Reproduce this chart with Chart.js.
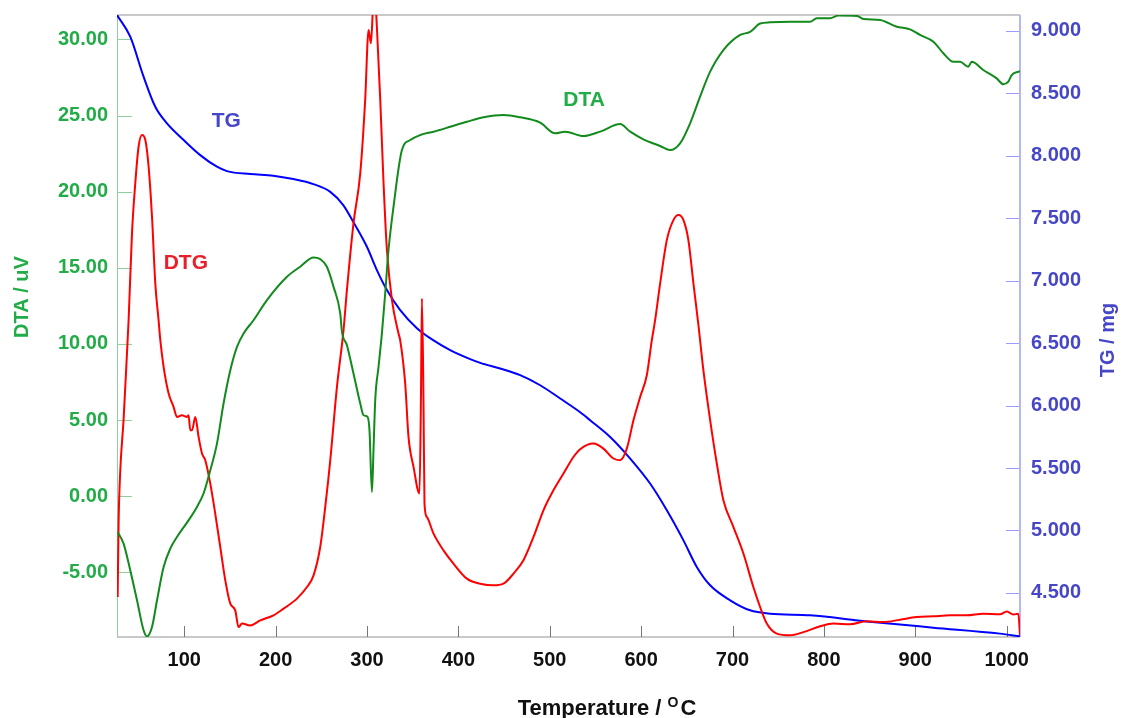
<!DOCTYPE html>
<html>
<head>
<meta charset="utf-8">
<script src="https://cdn.jsdelivr.net/npm/chart.js@4.4.1/dist/chart.umd.min.js"></script>
<style>
  body { margin: 0; background: #fff; }
  canvas { display: block; }
</style>
</head>
<body>
<canvas id="myChart" width="1124" height="718"></canvas>
<script>
// axis ranges and tick labels
const xMin = 26.4, xMax = 1014.6
const dtaMin = -9.24, dtaMax = 31.6
const tgMin = 4.147, tgMax = 9.128
const xTicks = [100, 200, 300, 400, 500, 600, 700, 800, 900, 1000]
const dtaTicks = [-5, 0, 5, 10, 15, 20, 25, 30]
const tgTicks = [4.5, 5, 5.5, 6, 6.5, 7, 7.5, 8, 8.5, 9]

// TG curve (mg) vs temperature
const tgT = [26.4, 40.9, 55.5, 68.3, 81.1, 99.3, 117.5, 135.8, 146.7, 172.2,
  197.4, 219.3, 241.2, 259.8, 274.0, 284.9, 299.9, 310.8, 321.8, 336.3,
  354.6, 372.4, 391.0, 412.9, 423.9, 445.7, 467.6, 489.5, 511.4, 533.3,
  544.2, 566.1, 588.0, 609.8, 628.1, 646.3, 660.9, 675.5, 697.4, 719.2,
  741.1, 784.9, 846.9, 919.8, 992.7, 1014.6]
const tgV = [9.128, 8.954, 8.634, 8.393, 8.260, 8.127, 8.006, 7.913, 7.878, 7.854,
  7.841, 7.814, 7.774, 7.712, 7.606, 7.472, 7.272, 7.085, 6.925, 6.764,
  6.620, 6.524, 6.444, 6.372, 6.342, 6.297, 6.244, 6.163, 6.057, 5.947,
  5.883, 5.749, 5.576, 5.376, 5.162, 4.921, 4.708, 4.561, 4.441, 4.361,
  4.334, 4.321, 4.272, 4.222, 4.174, 4.152]

// DTA curve (uV)
const dtaT = [27.1, 33.6, 40.9, 48.3, 55.5, 59.2, 64.7, 70.2, 77.4, 84.7,
  92.0, 104.7, 113.9, 121.1, 128.5, 135.8, 143.0, 150.4, 157.7, 164.9,
  175.8, 190.5, 212.4, 226.9, 241.5, 248.8, 256.1, 263.4, 270.7, 272.6,
  278.0, 285.2, 292.6, 296.2, 300.6, 302.7, 305.4, 307.1, 309.0, 312.6,
  316.3, 319.9, 323.5, 329.0, 338.2, 347.3, 358.2, 372.8, 391.0, 409.3,
  427.5, 449.3, 467.6, 489.5, 505.9, 516.8, 536.9, 555.1, 577.0, 588.0,
  602.5, 620.8, 631.7, 642.6, 653.6, 664.5, 675.5, 690.0, 708.3, 719.2,
  730.2, 741.1, 763.0, 784.9, 792.2, 806.8, 815.8, 836.0, 843.2, 861.5,
  879.7, 894.3, 905.2, 919.8, 930.7, 941.6, 949.0, 958.0, 961.8, 974.4,
  989.1, 996.3, 1001.8, 1005.5, 1014.6]
const dtaV = [-2.35, -3.11, -4.86, -6.83, -8.80, -9.20, -8.59, -6.83, -4.65, -3.44,
  -2.67, -1.58, -0.70, 0.18, 1.71, 3.46, 6.09, 8.28, 9.81, 10.69,
  11.56, 12.88, 14.41, 15.07, 15.68, 15.57, 15.07, 13.75, 12.00, 10.80,
  9.92, 8.06, 6.09, 5.32, 5.21, 4.34, 0.28, 3.02, 6.31, 8.50,
  10.69, 13.32, 16.16, 19.01, 22.73, 23.39, 23.72, 23.94, 24.26, 24.59,
  24.88, 25.03, 24.88, 24.53, 23.83, 23.94, 23.65, 23.94, 24.44, 23.94,
  23.44, 23.00, 22.73, 23.17, 24.49, 26.24, 27.88, 29.30, 30.29, 30.49,
  31.04, 31.12, 31.16, 31.16, 31.39, 31.39, 31.56, 31.54, 31.34, 31.27,
  30.83, 30.66, 30.29, 29.85, 29.09, 28.53, 28.53, 28.21, 28.53, 27.99,
  27.44, 27.05, 27.22, 27.66, 27.92]

// DTG curve, drawn against the DTA axis
const dtgT = [27.1, 28.2, 30.0, 33.6, 37.3, 39.1, 42.8, 46.4, 50.0, 53.8,
  57.4, 61.0, 64.7, 68.3, 71.9, 73.8, 77.4, 82.9, 88.3, 92.0,
  97.5, 103.0, 104.7, 106.6, 108.5, 112.1, 115.7, 119.4, 123.0, 128.5,
  133.9, 139.4, 144.9, 150.4, 155.8, 159.4, 163.2, 172.2, 183.2, 197.7,
  208.7, 223.3, 234.3, 241.5, 248.8, 254.3, 259.8, 267.1, 274.3, 278.0,
  285.2, 292.6, 298.0, 301.7, 304.3, 307.1, 309.0, 310.8, 314.5, 318.1,
  321.8, 327.3, 334.5, 336.3, 341.8, 345.4, 350.9, 357.4, 359.0, 360.1,
  361.8, 362.9, 365.5, 372.8, 383.7, 394.6, 409.3, 423.9, 438.4, 449.3,
  460.3, 471.2, 482.2, 493.1, 504.0, 515.0, 525.9, 533.3, 547.8, 558.7,
  569.7, 577.0, 584.3, 591.6, 598.9, 606.2, 611.7, 615.3, 620.8, 628.1,
  635.3, 640.8, 646.3, 651.7, 657.2, 662.7, 668.1, 675.5, 682.8, 690.0,
  701.0, 711.9, 722.8, 730.2, 737.5, 748.4, 763.0, 777.5, 795.8, 810.4,
  828.6, 846.9, 865.1, 883.3, 901.6, 919.8, 938.0, 956.3, 974.4, 992.7,
  1000.1, 1007.3, 1012.8, 1014.6]
const dtgV = [-6.62, -1.58, 1.71, 5.03, 9.38, 11.56, 17.26, 20.55, 22.95, 23.72,
  23.39, 21.64, 18.35, 13.98, 11.56, 10.25, 8.50, 6.75, 5.87, 5.21,
  5.32, 5.21, 5.32, 4.34, 4.34, 5.21, 3.90, 2.81, 2.37, 0.83,
  -1.14, -3.33, -5.52, -7.05, -7.49, -8.59, -8.36, -8.48, -8.15, -7.82,
  -7.38, -6.72, -5.96, -5.19, -3.33, -0.70, 2.37, 7.18, 10.91, 13.53,
  17.92, 21.20, 26.02, 30.62, 29.74, 32.4, 32.4, 30.83, 26.02, 20.55,
  16.16, 12.88, 10.69, 10.25, 7.40, 3.90, 1.93, 0.18, 6.31, 12.99,
  6.31, -0.48, -1.36, -2.45, -3.55, -4.42, -5.41, -5.74, -5.85, -5.74,
  -5.08, -4.20, -2.67, -0.92, 0.39, 1.49, 2.58, 3.09, 3.46, 3.13,
  2.48, 2.37, 3.13, 4.99, 6.52, 7.95, 10.25, 11.56, 13.98, 16.82,
  18.13, 18.46, 18.13, 16.82, 13.98, 11.24, 8.28, 5.00, 2.15, -0.26,
  -2.02, -3.76, -5.96, -7.27, -8.36, -9.02, -9.13, -8.92, -8.54, -8.36,
  -8.41, -8.21, -8.26, -8.10, -7.93, -7.88, -7.82, -7.82, -7.71, -7.75,
  -7.56, -7.77, -7.71, -9.13]

// curve names placed in data coordinates [temperature, value, axis]
const curveLabels = [
  { text: 'TG', t: 146.0, v: 8.275, axis: 'y1', color: '#4646c8' },
  { text: 'DTG', t: 101.7, v: 15.28, axis: 'y', color: '#e8202a' },
  { text: 'DTA', t: 537.6, v: 26.02, axis: 'y', color: '#22ac48' }
]

const GREEN_TXT = '#22ac48'
const BLUE_TXT = '#4646c8'
const BOLD = "'Liberation Sans', Arial, sans-serif"
const NARROW = "'Liberation Sans Narrow', 'Arial Narrow', 'Liberation Sans', sans-serif"

function toPoints(xs, ys) {
  return xs.map((x, i) => ({ x: x, y: ys[i] }))
}

// keep the plot box fixed: no extra room for overhanging labels
function noPad(s) {
  s.paddingTop = 0
  s.paddingBottom = 0
  s.paddingLeft = 0
  s.paddingRight = 0
}

// frame, inward tick marks, axis titles and curve names
const overlay = {
  id: 'overlay',
  beforeDatasetsDraw(chart) {
    const ctx = chart.ctx
    const a = chart.chartArea
    const sx = chart.scales.x, sy = chart.scales.y, sy1 = chart.scales.y1
    ctx.save()
    ctx.lineWidth = 1.5
    ctx.strokeStyle = '#b8b8b8'
    ctx.beginPath()
    ctx.moveTo(a.left, a.top); ctx.lineTo(a.right, a.top)
    ctx.moveTo(a.left, a.bottom); ctx.lineTo(a.right, a.bottom)
    ctx.stroke()
    ctx.lineWidth = 1
    ctx.strokeStyle = '#8fd19e'
    ctx.beginPath()
    ctx.moveTo(a.left + 0.5, a.top); ctx.lineTo(a.left + 0.5, a.bottom)
    dtaTicks.forEach(v => {
      const p = Math.round(sy.getPixelForValue(v)) + 0.5
      ctx.moveTo(a.left, p); ctx.lineTo(a.left + 15, p)
    })
    ctx.stroke()
    ctx.strokeStyle = '#9c9cf4'
    ctx.beginPath()
    tgTicks.forEach(v => {
      const p = Math.round(sy1.getPixelForValue(v)) + 0.5
      ctx.moveTo(a.right - 14, p); ctx.lineTo(a.right, p)
    })
    ctx.stroke()
    ctx.lineWidth = 2
    ctx.strokeStyle = '#b4b4ff'
    ctx.beginPath()
    ctx.moveTo(a.right, a.top); ctx.lineTo(a.right, a.bottom)
    ctx.stroke()
    ctx.lineWidth = 1
    ctx.strokeStyle = '#777'
    ctx.beginPath()
    xTicks.forEach(v => {
      const p = Math.round(sx.getPixelForValue(v)) + 0.5
      ctx.moveTo(p, a.bottom); ctx.lineTo(p, a.bottom - 11)
    })
    ctx.stroke()
    ctx.restore()
  },
  afterDraw(chart) {
    const ctx = chart.ctx
    ctx.save()
    ctx.textAlign = 'center'
    ctx.textBaseline = 'middle'
    ctx.font = 'bold 20px ' + BOLD

    ctx.fillStyle = GREEN_TXT
    ctx.save()
    ctx.translate(22, 297)
    ctx.rotate(-Math.PI / 2)
    ctx.fillText('DTA / uV', 0, 0)
    ctx.restore()

    ctx.fillStyle = BLUE_TXT
    ctx.save()
    ctx.translate(1108, 340)
    ctx.rotate(-Math.PI / 2)
    ctx.fillText('TG / mg', 0, 0)
    ctx.restore()

    // x title with superscript O
    const main = 'Temperature / ', sup = 'O', tail = 'C'
    ctx.textAlign = 'left'
    ctx.textBaseline = 'alphabetic'
    ctx.fillStyle = '#111'
    ctx.font = 'bold 22px ' + BOLD
    const w1 = ctx.measureText(main).width
    const w3 = ctx.measureText(tail).width
    ctx.font = 'bold 14px ' + BOLD
    const w2 = ctx.measureText(sup).width + 2
    const x0 = 607 - (w1 + w2 + w3) / 2
    ctx.font = 'bold 22px ' + BOLD
    ctx.fillText(main, x0, 715)
    ctx.font = 'bold 14px ' + BOLD
    ctx.fillText(sup, x0 + w1, 707)
    ctx.font = 'bold 22px ' + BOLD
    ctx.fillText(tail, x0 + w1 + w2, 715)

    ctx.textAlign = 'center'
    ctx.textBaseline = 'middle'
    ctx.font = 'bold 21px ' + BOLD
    curveLabels.forEach(l => {
      ctx.fillStyle = l.color
      ctx.fillText(l.text, chart.scales.x.getPixelForValue(l.t), chart.scales[l.axis].getPixelForValue(l.v))
    })
    ctx.restore()
  }
}

function makeChart() {
  const ctx = document.getElementById('myChart').getContext('2d')
  const chart = new Chart(ctx, {
    type: 'line',
    data: {
      datasets: [{
        label: 'DTA',
        data: toPoints(dtaT, dtaV),
        borderColor: '#128a1c',
        borderWidth: 2,
        yAxisID: 'y'
      }, {
        label: 'DTG',
        data: toPoints(dtgT, dtgV),
        borderColor: '#ff0000',
        borderWidth: 2,
        yAxisID: 'y'
      }, {
        label: 'TG',
        data: toPoints(tgT, tgV),
        borderColor: '#0000ff',
        borderWidth: 2,
        yAxisID: 'y1'
      }]
    },
    options: {
      responsive: false,
      animation: false,
      devicePixelRatio: 1,
      parsing: false,
      elements: {
        point: { radius: 0 },
        line: { cubicInterpolationMode: 'monotone', fill: false }
      },
      layout: { autoPadding: false, padding: { top: 15, left: 0, right: 0, bottom: 0 } },
      plugins: { legend: { display: false }, tooltip: { enabled: false } },
      scales: {
        x: {
          type: 'linear',
          position: 'bottom',
          min: xMin,
          max: xMax,
          grid: { display: false, drawTicks: false },
          border: { display: false },
          afterBuildTicks: s => { s.ticks = xTicks.map(v => ({ value: v })) },
          afterFit: s => { s.height = 81; noPad(s) },
          ticks: {
            padding: 11,
            color: '#111',
            font: { family: NARROW, size: 20, weight: 'bold' },
            maxRotation: 0,
            autoSkip: false,
            callback: v => String(v)
          }
        },
        y: {
          type: 'linear',
          position: 'left',
          min: dtaMin,
          max: dtaMax,
          grid: { display: false, drawTicks: false },
          border: { display: false },
          afterBuildTicks: s => { s.ticks = dtaTicks.map(v => ({ value: v })) },
          afterFit: s => { s.width = 117; noPad(s) },
          ticks: {
            padding: 9,
            color: GREEN_TXT,
            font: { family: BOLD, size: 20, weight: 'bold' },
            autoSkip: false,
            callback: v => v.toFixed(2)
          }
        },
        y1: {
          type: 'linear',
          position: 'right',
          min: tgMin,
          max: tgMax,
          grid: { display: false, drawTicks: false },
          border: { display: false },
          afterBuildTicks: s => { s.ticks = tgTicks.map(v => ({ value: v })) },
          afterFit: s => { s.width = 104; noPad(s) },
          ticks: {
            padding: 11,
            color: BLUE_TXT,
            font: { family: BOLD, size: 20, weight: 'bold' },
            autoSkip: false,
            callback: v => v.toFixed(3)
          }
        }
      }
    },
    plugins: [overlay]
  })
}

makeChart()
</script>
</body>
</html>
